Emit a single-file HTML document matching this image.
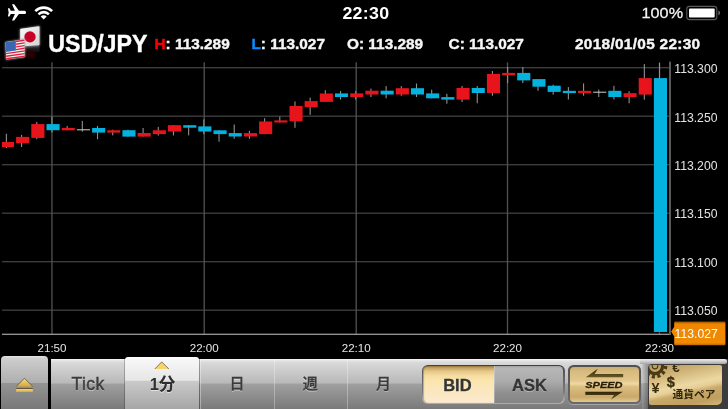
<!DOCTYPE html>
<html><head><meta charset="utf-8"><title>USD/JPY</title>
<style>
html,body{margin:0;padding:0;background:#000;}
body{width:728px;height:409px;overflow:hidden;position:relative;font-family:"Liberation Sans","Noto Sans CJK JP",sans-serif;color:#fff;}
.abs{position:absolute;white-space:nowrap;line-height:1;}
svg{position:absolute;left:0;top:0;}
.ax{font-family:"Liberation Sans",sans-serif;font-size:12.2px;fill:#e4e4e4;}
.hd{font-weight:bold;font-size:15.4px;color:#f6f6f6;top:36.2px;-webkit-text-stroke-width:0.4px;}
.tab{position:absolute;top:360px;height:49px;text-align:center;color:#3c3c3c;text-shadow:0 1px 0 rgba(255,255,255,.55);font-size:17px;line-height:1;}
</style></head><body>

<!-- status bar -->
<svg width="728" height="24" viewBox="0 0 728 24">
<path d="M24.4 10.7 Q26.1 10.7 26.1 12.4 Q26.1 14 24.4 14 L18.9 14 L14.2 20.5 L12 20.5 L14.9 14 L10.8 14 L9.4 16.5 L7.9 16.5 L8.7 12.4 L7.9 8.3 L9.4 8.3 L10.8 10.7 L14.9 10.7 L12 4.3 L14.2 4.3 L18.9 10.7 Z" fill="#fff"/>
<g fill="none" stroke="#fff" stroke-width="2.6">
<path d="M35.3 11.1 A11.9 11.9 0 0 1 52.1 11.1"/>
<path d="M38.5 14.3 A7.4 7.4 0 0 1 48.9 14.3"/>
</g>
<path d="M43.7 19.6 L40.7 16.5 A4.2 4.2 0 0 1 46.7 16.5 Z" fill="#fff"/>
<rect x="686.8" y="6.4" width="30" height="13.2" rx="2.6" fill="none" stroke="#5a5a5a" stroke-width="1.1"/>
<rect x="689" y="8.4" width="25.7" height="9.2" rx="1" fill="#fff"/>
<path d="M718.4 10.6 Q720.2 11.5 720.2 13 Q720.2 14.5 718.4 15.4 Z" fill="#6a6a6a"/>
</svg>
<div class="abs" style="left:342.4px;top:5.6px;font-weight:bold;font-size:17.8px;letter-spacing:0.3px;transform:scaleY(0.94);transform-origin:0 0;">22:30</div>
<div class="abs" style="left:641.4px;top:5px;font-size:16.2px;letter-spacing:0.1px;color:#f4f4f4;-webkit-text-stroke:0.3px #f4f4f4;transform:scaleY(0.9);transform-origin:0 0;">100%</div>

<!-- flags -->
<svg width="50" height="64" viewBox="0 0 50 64">
<defs>
<linearGradient id="jp" x1="0" y1="0" x2="1" y2="1"><stop offset="0" stop-color="#fafafa"/><stop offset="1" stop-color="#d2d2d2"/></linearGradient>
<filter id="gl" x="-30%" y="-30%" width="160%" height="160%"><feGaussianBlur stdDeviation="0.9"/></filter>
</defs>
<path d="M19.6 29 L39.9 25.8 L39.9 45.4 L19.9 47.2 Z" fill="#888" filter="url(#gl)"/>
<path d="M20.2 29.3 Q20.2 28.8 20.8 28.7 L38.8 26.2 Q39.5 26.1 39.5 26.8 L39.5 44.6 Q39.5 45.1 38.9 45.2 L20.8 46.6 Q20.2 46.6 20.2 46 Z" fill="url(#jp)"/>
<ellipse cx="30" cy="36.9" rx="5.7" ry="5.6" fill="#c80226"/>
<linearGradient id="rf" x1="0" y1="0" x2="0" y2="1"><stop offset="0" stop-color="#fff" stop-opacity="0.2"/><stop offset="1" stop-color="#fff" stop-opacity="0"/></linearGradient>
<path d="M24.8 46.6 L39.5 45.6 L39.5 52 L24.8 54 Z" fill="url(#rf)"/>
<ellipse cx="30.8" cy="54.2" rx="5" ry="4.2" fill="#2a0006" filter="url(#gl)"/>
<path d="M5 42 L24.8 39 L25.1 57.2 L5.8 60 Z" fill="#999" filter="url(#gl)"/>
<path d="M5.6 42 L24.4 39.5 L24.6 56.9 L6.2 59.5 Z" fill="#f4f4f4"/>
<g fill="#d8213c">
<path d="M15.9 40.8 L24.4 39.5 L24.42 40.9 L15.9 42.2 Z"/>
<path d="M15.9 43.5 L24.44 42.2 L24.46 43.6 L15.9 44.9 Z"/>
<path d="M15.9 46.2 L24.48 44.9 L24.5 46.3 L15.9 47.6 Z"/>
<path d="M15.9 48.9 L24.52 47.6 L24.54 49 L15.9 50.3 Z"/>
<path d="M5.95 52.9 L24.56 50.3 L24.58 51.6 L6 54.2 Z"/>
<path d="M6.05 55.5 L24.6 52.9 L24.6 54.3 L6.1 56.9 Z"/>
<path d="M6.15 58.1 L24.6 55.6 L24.6 56.9 L6.2 59.5 Z"/>
</g>
<path d="M5.6 42 L15.9 40.7 L15.9 50.6 L5.9 51.9 Z" fill="#3a66b4"/>
</svg>
<div class="abs" style="left:48.2px;top:32.8px;font-weight:bold;font-size:23.2px;color:#fff;-webkit-text-stroke:0.4px #fff;">USD/JPY</div>
<div class="abs hd" style="left:154.4px;"><span style="color:#ff0000">H</span>: 113.289</div>
<div class="abs hd" style="left:251.4px;"><span style="color:#0a8cff">L</span>: 113.027</div>
<div class="abs hd" style="left:347px;">O: 113.289</div>
<div class="abs hd" style="left:448.6px;">C: 113.027</div>
<div class="abs hd" style="left:575px;letter-spacing:0.3px;">2018/01/05 22:30</div>

<!-- chart -->
<svg width="728" height="409" viewBox="0 0 728 409">
<rect x="2" y="67.05" width="668" height="1.3" fill="#404040"/>
<rect x="2" y="115.55" width="668" height="1.3" fill="#404040"/>
<rect x="2" y="164.05" width="668" height="1.3" fill="#404040"/>
<rect x="2" y="212.55" width="668" height="1.3" fill="#404040"/>
<rect x="2" y="261.05" width="668" height="1.3" fill="#404040"/>
<rect x="2" y="309.55" width="668" height="1.3" fill="#404040"/>
<rect x="51.30" y="62.3" width="1.3" height="272" fill="#525252"/>
<rect x="203.55" y="62.3" width="1.3" height="272" fill="#525252"/>
<rect x="355.55" y="62.3" width="1.3" height="272" fill="#525252"/>
<rect x="506.85" y="62.3" width="1.3" height="272" fill="#525252"/>
<rect x="658.85" y="62.3" width="1.3" height="272" fill="#525252"/>
<rect x="2" y="333.65" width="668.6" height="1.3" fill="#9a9a9a"/>
<rect x="669.1" y="61.6" width="1.8" height="273.3" fill="#646464"/>
<rect x="5.83" y="133.8" width="1.1" height="14.3" fill="#909090"/>
<rect x="2.0" y="142.0" width="12.0" height="5.0" fill="#e8141c"/>
<rect x="21.02" y="134.9" width="1.1" height="12.1" fill="#909090"/>
<rect x="16.1" y="136.9" width="13.1" height="6.3" fill="#e8141c"/>
<rect x="36.21" y="121.9" width="1.1" height="17.3" fill="#909090"/>
<rect x="31.3" y="124.1" width="13.1" height="13.8" fill="#e8141c"/>
<rect x="51.40" y="116.5" width="1.1" height="16.1" fill="#909090"/>
<rect x="46.5" y="124.1" width="13.1" height="6.1" fill="#04b2e0"/>
<rect x="66.59" y="125.9" width="1.1" height="4.4" fill="#909090"/>
<rect x="61.7" y="128.0" width="13.1" height="2.3" fill="#e8141c"/>
<rect x="81.78" y="120.9" width="1.1" height="10.7" fill="#909090"/>
<rect x="76.9" y="129.3" width="13.1" height="1.0" fill="#d0d0d0"/>
<rect x="96.97" y="125.9" width="1.1" height="13.3" fill="#909090"/>
<rect x="92.1" y="128.0" width="13.1" height="4.6" fill="#04b2e0"/>
<rect x="112.16" y="129.7" width="1.1" height="5.7" fill="#909090"/>
<rect x="107.2" y="130.3" width="13.1" height="2.3" fill="#e8141c"/>
<rect x="127.34" y="129.7" width="1.1" height="6.9" fill="#909090"/>
<rect x="122.4" y="130.2" width="13.1" height="6.4" fill="#04b2e0"/>
<rect x="142.53" y="128.0" width="1.1" height="8.6" fill="#909090"/>
<rect x="137.6" y="133.0" width="13.1" height="3.6" fill="#e8141c"/>
<rect x="157.72" y="126.9" width="1.1" height="8.7" fill="#909090"/>
<rect x="152.8" y="130.3" width="13.1" height="3.8" fill="#e8141c"/>
<rect x="172.91" y="125.2" width="1.1" height="10.2" fill="#909090"/>
<rect x="168.0" y="125.2" width="13.1" height="6.3" fill="#e8141c"/>
<rect x="188.10" y="125.2" width="1.1" height="10.2" fill="#909090"/>
<rect x="183.2" y="125.2" width="13.1" height="2.5" fill="#04b2e0"/>
<rect x="203.29" y="119.4" width="1.1" height="14.7" fill="#909090"/>
<rect x="198.3" y="126.4" width="13.1" height="5.1" fill="#04b2e0"/>
<rect x="218.48" y="130.3" width="1.1" height="11.4" fill="#909090"/>
<rect x="213.5" y="130.3" width="13.1" height="3.8" fill="#04b2e0"/>
<rect x="233.67" y="124.5" width="1.1" height="14.3" fill="#909090"/>
<rect x="228.7" y="133.1" width="13.1" height="3.4" fill="#04b2e0"/>
<rect x="248.86" y="130.8" width="1.1" height="8.0" fill="#909090"/>
<rect x="243.9" y="133.1" width="13.1" height="3.4" fill="#e8141c"/>
<rect x="264.05" y="118.2" width="1.1" height="15.9" fill="#909090"/>
<rect x="259.1" y="121.5" width="13.1" height="12.6" fill="#e8141c"/>
<rect x="279.24" y="116.6" width="1.1" height="5.9" fill="#909090"/>
<rect x="274.3" y="120.4" width="13.1" height="2.1" fill="#e8141c"/>
<rect x="294.42" y="101.4" width="1.1" height="26.4" fill="#909090"/>
<rect x="289.5" y="106.0" width="13.1" height="15.2" fill="#e8141c"/>
<rect x="309.61" y="97.6" width="1.1" height="17.3" fill="#909090"/>
<rect x="304.6" y="101.1" width="13.1" height="6.1" fill="#e8141c"/>
<rect x="324.80" y="90.2" width="1.1" height="11.7" fill="#909090"/>
<rect x="319.8" y="93.5" width="13.1" height="8.4" fill="#e8141c"/>
<rect x="339.99" y="91.0" width="1.1" height="8.6" fill="#909090"/>
<rect x="335.0" y="93.4" width="13.1" height="3.6" fill="#04b2e0"/>
<rect x="355.18" y="91.0" width="1.1" height="8.6" fill="#909090"/>
<rect x="350.2" y="93.4" width="13.1" height="3.6" fill="#e8141c"/>
<rect x="370.37" y="88.6" width="1.1" height="8.4" fill="#909090"/>
<rect x="365.4" y="90.7" width="13.1" height="3.8" fill="#e8141c"/>
<rect x="385.56" y="86.1" width="1.1" height="12.2" fill="#909090"/>
<rect x="380.6" y="90.7" width="13.1" height="3.8" fill="#04b2e0"/>
<rect x="400.75" y="86.1" width="1.1" height="9.7" fill="#909090"/>
<rect x="395.8" y="88.2" width="13.1" height="6.3" fill="#e8141c"/>
<rect x="415.94" y="83.5" width="1.1" height="13.5" fill="#909090"/>
<rect x="410.9" y="88.2" width="13.1" height="6.3" fill="#04b2e0"/>
<rect x="431.12" y="89.7" width="1.1" height="8.6" fill="#909090"/>
<rect x="426.1" y="93.4" width="13.1" height="4.9" fill="#04b2e0"/>
<rect x="446.31" y="93.8" width="1.1" height="9.9" fill="#909090"/>
<rect x="441.3" y="97.1" width="13.1" height="2.5" fill="#04b2e0"/>
<rect x="461.50" y="86.0" width="1.1" height="16.0" fill="#909090"/>
<rect x="456.5" y="88.0" width="13.1" height="11.6" fill="#e8141c"/>
<rect x="476.69" y="86.0" width="1.1" height="17.3" fill="#909090"/>
<rect x="471.7" y="88.0" width="13.1" height="5.0" fill="#04b2e0"/>
<rect x="491.88" y="71.0" width="1.1" height="24.8" fill="#909090"/>
<rect x="486.9" y="74.0" width="13.1" height="19.0" fill="#e8141c"/>
<rect x="507.07" y="67.0" width="1.1" height="16.1" fill="#909090"/>
<rect x="502.1" y="72.9" width="13.1" height="2.4" fill="#e8141c"/>
<rect x="522.26" y="67.0" width="1.1" height="16.1" fill="#909090"/>
<rect x="517.2" y="72.9" width="13.1" height="7.5" fill="#04b2e0"/>
<rect x="537.45" y="79.1" width="1.1" height="11.7" fill="#909090"/>
<rect x="532.4" y="79.1" width="13.1" height="7.6" fill="#04b2e0"/>
<rect x="552.64" y="84.7" width="1.1" height="9.9" fill="#909090"/>
<rect x="547.6" y="85.7" width="13.1" height="6.2" fill="#04b2e0"/>
<rect x="567.83" y="87.1" width="1.1" height="12.4" fill="#909090"/>
<rect x="562.8" y="90.8" width="13.1" height="2.3" fill="#04b2e0"/>
<rect x="583.02" y="83.4" width="1.1" height="12.3" fill="#909090"/>
<rect x="578.0" y="90.8" width="13.1" height="2.3" fill="#e8141c"/>
<rect x="598.20" y="89.6" width="1.1" height="7.4" fill="#909090"/>
<rect x="593.2" y="91.7" width="13.1" height="1.0" fill="#d0d0d0"/>
<rect x="613.39" y="85.8" width="1.1" height="13.7" fill="#909090"/>
<rect x="608.3" y="90.8" width="13.1" height="6.2" fill="#04b2e0"/>
<rect x="628.58" y="91.3" width="1.1" height="12.0" fill="#909090"/>
<rect x="623.5" y="93.2" width="13.1" height="3.8" fill="#e8141c"/>
<rect x="643.77" y="64.1" width="1.1" height="35.6" fill="#909090"/>
<rect x="638.7" y="78.1" width="13.1" height="16.5" fill="#e8141c"/>
<rect x="658.96" y="63.0" width="1.1" height="269.0" fill="#909090"/>
<rect x="653.9" y="78.1" width="13.1" height="253.9" fill="#04b2e0"/>
<text x="674.3" y="73.3" class="ax">113.300</text>
<text x="674.3" y="121.7" class="ax">113.250</text>
<text x="674.3" y="170.1" class="ax">113.200</text>
<text x="674.3" y="218.4" class="ax">113.150</text>
<text x="674.3" y="266.8" class="ax">113.100</text>
<text x="674.3" y="315.2" class="ax">113.050</text>
<text x="52.0" y="351.7" class="ax" style="font-size:11.6px" text-anchor="middle">21:50</text>
<text x="204.2" y="351.7" class="ax" style="font-size:11.6px" text-anchor="middle">22:00</text>
<text x="356.2" y="351.7" class="ax" style="font-size:11.6px" text-anchor="middle">22:10</text>
<text x="507.5" y="351.7" class="ax" style="font-size:11.6px" text-anchor="middle">22:20</text>
<text x="659.5" y="351.7" class="ax" style="font-size:11.6px" text-anchor="middle">22:30</text>
<defs><linearGradient id="og" x1="0" y1="0" x2="0" y2="1"><stop offset="0" stop-color="#8a4c00"/><stop offset="0.1" stop-color="#ee8600"/><stop offset="0.9" stop-color="#f28a00"/><stop offset="1" stop-color="#b86400"/></linearGradient></defs><path d="M671.2 331.6 L674.2 326.8 L674.2 322.5 Q674.2 321.6 675.2 321.6 L724.5 321.6 Q725.4 321.6 725.4 322.6 L725.4 344.2 Q725.4 345.2 724.4 345.2 L675.2 345.2 Q674.2 345.2 674.2 344.2 L674.2 336.4 Z" fill="url(#og)"/>
<text x="674.6" y="337.7" class="ax" fill="#fff" style="fill:#fff">113.027</text>
</svg>

<!-- toolbar -->
<div style="position:absolute;left:0;top:359px;width:728px;height:50px;background:#000;"></div>
<div style="position:absolute;left:51px;top:359px;width:677px;height:50px;background:linear-gradient(#f4f4f4 0,#e2e2e2 2px,#d8d8d8 4px,#b8b8b8 24.3px,#a0a0a0 24.8px,#7a7a7a 50px);"></div>
<!-- eject button -->
<div style="position:absolute;left:1px;top:356px;width:46.5px;height:53px;border-radius:4px 4px 0 0;background:linear-gradient(#e6e6e6 0,#d2d2d2 2px,#cacaca 5px,#aeaeae 27px,#949494 27.5px,#787878 53px);"></div>
<svg width="60" height="409" viewBox="0 0 60 409">
<defs><linearGradient id="gd" x1="0" y1="0" x2="0" y2="1"><stop offset="0" stop-color="#f6dc8c"/><stop offset="1" stop-color="#d8a838"/></linearGradient></defs>
<path d="M24.4 378.2 L32.7 386.5 L16.2 386.5 Z" fill="url(#gd)"/>
<path d="M16.2 386.5 L24.4 378.2 L32.7 386.5" fill="none" stroke="#5e5236" stroke-width="0.8" stroke-linejoin="round"/>
<rect x="16.1" y="388.7" width="16.7" height="3.3" fill="url(#gd)"/>
<rect x="16.1" y="388" width="16.7" height="0.9" fill="#5a4e34"/>
</svg>
<!-- tabs -->
<div class="tab" style="left:51px;width:74px;"><div style="margin-top:16px;font-size:17.6px;letter-spacing:0.4px;-webkit-text-stroke:0.45px #3c3c3c;">Tick</div></div>
<div style="position:absolute;left:124.7px;top:357.3px;width:74.5px;height:52px;border-radius:3px 3px 0 0;background:linear-gradient(#ffffff 0,#f7f7f7 3px,#e6e6e6 23.4px,#cacaca 23.9px,#a6a6a6 52px);"></div>
<svg width="728" height="409" viewBox="0 0 728 409"><path d="M161.7 361.9 L168.9 369 L154.8 369 Z" fill="#f6d46c"/><path d="M154.8 369 L161.7 361.9 L168.9 369" fill="none" stroke="#6a5c38" stroke-width="0.8" stroke-linejoin="round"/></svg>
<div class="tab" style="left:125.5px;width:74px;font-weight:bold;color:#2e2e2e;"><div style="margin-top:16.4px;font-size:16.5px;">1分</div></div>
<div style="position:absolute;left:199.2px;top:359px;width:1px;height:50px;background:rgba(0,0,0,.28);"></div>
<div style="position:absolute;left:200.2px;top:360px;width:1px;height:49px;background:rgba(255,255,255,.35);"></div>
<div style="position:absolute;left:124px;top:359px;width:1px;height:50px;background:rgba(0,0,0,.22);"></div>
<div style="position:absolute;left:273.5px;top:360px;width:1px;height:49px;background:rgba(255,255,255,.3);"></div>
<div style="position:absolute;left:347px;top:360px;width:1px;height:49px;background:rgba(255,255,255,.3);"></div>
<div class="tab" style="left:200px;width:74px;font-weight:500;"><div style="margin-top:15.6px;font-size:15px;-webkit-text-stroke:0.35px #3c3c3c;">日</div></div>
<div class="tab" style="left:273.5px;width:73.5px;font-weight:500;"><div style="margin-top:15.6px;font-size:15px;-webkit-text-stroke:0.35px #3c3c3c;">週</div></div>
<div class="tab" style="left:347px;width:73px;font-weight:500;"><div style="margin-top:15.6px;font-size:15px;-webkit-text-stroke:0.35px #3c3c3c;">月</div></div>
<!-- BID/ASK -->
<div style="position:absolute;left:421.8px;top:364.6px;width:142.8px;height:39.4px;border-radius:6px;background:linear-gradient(#3e3e3e 0,#5a5a5a 20%,#7c7c7c 70%,#b4b4b4 96%,#a8a8a8 100%);"></div>
<div style="position:absolute;left:423px;top:366px;width:70.6px;height:36.8px;border-radius:4.5px 0 0 4.5px;background:linear-gradient(#9a7a42 0,#c4a262 5%,#e4c688 14%,#f6dca0 26%,#fbe5b0 42%,#faead0 100%);box-shadow:inset 1px 0 1px rgba(90,60,10,.35);"></div>
<div style="position:absolute;left:493.6px;top:366px;width:69.8px;height:36.8px;border-radius:0 4.5px 4.5px 0;background:linear-gradient(#a4a4a4 0,#b6b6b6 6%,#acacac 40%,#8e8e8e 75%,#858585 100%);box-shadow:inset 1px 0 0 rgba(255,255,255,.25);"></div>
<div class="abs" style="left:443.2px;top:377px;font-weight:bold;font-size:16.5px;color:#343434;-webkit-text-stroke:0.3px #343434;text-shadow:0 1px 0 rgba(255,255,255,.5);">BID</div>
<div class="abs" style="left:512px;top:377px;font-weight:bold;font-size:16.5px;color:#343434;-webkit-text-stroke:0.3px #343434;text-shadow:0 1px 0 rgba(255,255,255,.45);">ASK</div>
<!-- SPEED -->
<div style="position:absolute;left:568px;top:365.1px;width:73px;height:39.1px;border-radius:5.5px;background:linear-gradient(#505050,#6a6a6a);box-shadow:0 1px 0 rgba(255,255,255,.3);"></div>
<div style="position:absolute;left:569.8px;top:367.2px;width:69.5px;height:35.2px;border-radius:4px;background:linear-gradient(#c8ac70 0,#d6ba7e 12%,#e2c68c 38%,#f0d9a2 48%,#dcbf82 56%,#caa96a 85%,#e2c88e 100%);"></div>
<svg width="728" height="409" viewBox="0 0 728 409">
<defs><linearGradient id="ar" x1="0" y1="0" x2="0" y2="1"><stop offset="0" stop-color="#2e2408"/><stop offset="1" stop-color="#6a5820"/></linearGradient></defs>
<path d="M585.8 377.2 L597.8 368.8 L594.6 374.1 L623.2 374.1 L623.2 377.2 Z" fill="url(#ar)"/>
<path d="M622.8 391.8 L610.8 399.8 L614 394.9 L585.3 394.9 L585.3 391.8 Z" fill="url(#ar)"/>
<text x="585.2" y="387.8" font-family="Liberation Sans, sans-serif" font-weight="bold" font-style="italic" font-size="9.4" fill="#2a2008" stroke="#2a2008" stroke-width="0.3" textLength="37.4" lengthAdjust="spacingAndGlyphs">SPEED</text>
</svg>
<!-- currency pair button -->
<div style="position:absolute;left:641.5px;top:359.3px;width:86.5px;height:49.7px;background:#3c3c3c;"></div>
<div style="position:absolute;left:641.5px;top:360px;width:6.4px;height:49px;background:linear-gradient(90deg,#c6c6c6,#8e8e8e);"></div>
<div style="position:absolute;left:641.5px;top:383px;width:6.4px;height:26px;background:linear-gradient(rgba(0,0,0,.12),rgba(0,0,0,.3));"></div>
<div style="position:absolute;left:640px;top:359.3px;width:86.8px;height:5.2px;border-radius:0 3px 3px 0;background:linear-gradient(#ececec,#d4d4d4 40%,#a6a6a6);"></div>
<svg width="728" height="409" viewBox="0 0 728 409"><path d="M647.6 364.3 L651.5 364.3 Q648 364.8 647.8 368.5 Z" fill="#a8a8a8"/></svg>
<div style="position:absolute;left:648.6px;top:365.3px;width:73.2px;height:39.8px;border-radius:2px 2px 5px 2px;overflow:hidden;background:linear-gradient(168deg,#b89a5c 0,#cdb074 22%,#ecd8a2 50%,#e6cf96 58%,#c9aa6a 66%,#bf9f60 85%,#d2b67a 100%);">
<svg width="74" height="40" viewBox="648.6 365.3 74 40" style="left:0;top:0;">
<g fill="none" stroke="#4a3a12"><circle cx="654.6" cy="366.4" r="10.6" stroke-dasharray="3 2.55" stroke-width="3.4"/><circle cx="654.6" cy="366.4" r="7.6" stroke-width="3.2"/><circle cx="654.6" cy="366.4" r="2.8" stroke-width="1.1"/></g>
<text x="671.8" y="372.6" font-family="Liberation Sans, sans-serif" font-weight="bold" font-size="13.5" fill="#3a2c0c">€</text>
<text x="666.4" y="387.2" font-family="Liberation Sans, sans-serif" font-weight="bold" font-size="14.5" fill="#3a2c0c" stroke="#3a2c0c" stroke-width="0.3">$</text>
<text x="651.2" y="393.6" font-family="Liberation Sans, sans-serif" font-weight="bold" font-size="14.5" fill="#3a2c0c">¥</text>
<text x="672.2" y="398.4" font-family="Liberation Sans, Noto Sans CJK JP, sans-serif" font-weight="bold" font-size="10.7" fill="#2e240c">通貨ペア</text>
</svg>
</div>
</body></html>
